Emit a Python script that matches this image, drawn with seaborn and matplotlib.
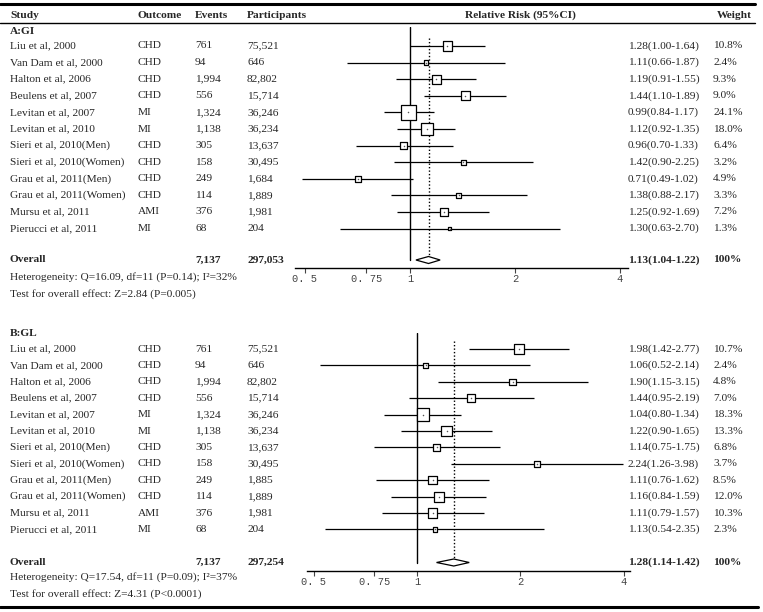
import numpy as np
import pandas as pd
import matplotlib
matplotlib.use("Agg")
import matplotlib.pyplot as plt
import seaborn as sns

# ---------------- data ----------------
studies = ["Liu et al, 2000", "Van Dam et al, 2000", "Halton et al, 2006", "Beulens et al, 2007",
           "Levitan et al, 2007", "Levitan et al, 2010", "Sieri et al, 2010(Men)",
           "Sieri et al, 2010(Women)", "Grau et al, 2011(Men)", "Grau et al, 2011(Women)",
           "Mursu et al, 2011", "Pierucci et al, 2011"]
outcomes = ["CHD", "CHD", "CHD", "CHD", "MI", "MI", "CHD", "CHD", "CHD", "CHD", "AMI", "MI"]
events = ["761", "94", "1,994", "556", "1,324", "1,138", "305", "158", "249", "114", "376", "68"]
participants_a = ["75,521", "646", "82,802", "15,714", "36,246", "36,234", "13,637", "30,495",
                  "1,684", "1,889", "1,981", "204"]
participants_b = ["75,521", "646", "82,802", "15,714", "36,246", "36,234", "13,637", "30,495",
                  "1,885", "1,889", "1,981", "204"]

rr_a = [1.28, 1.11, 1.19, 1.44, 0.99, 1.12, 0.96, 1.42, 0.71, 1.38, 1.25, 1.30]
lo_a = [1.00, 0.66, 0.91, 1.10, 0.84, 0.92, 0.70, 0.90, 0.49, 0.88, 0.92, 0.63]
hi_a = [1.64, 1.87, 1.55, 1.89, 1.17, 1.35, 1.33, 2.25, 1.02, 2.17, 1.69, 2.70]
w_a = [10.8, 2.4, 9.3, 9.0, 24.1, 18.0, 6.4, 3.2, 4.9, 3.3, 7.2, 1.3]
overall_a = (1.13, 1.04, 1.22)
total_a = ("7,137", "297,053")
het_a = "Heterogeneity: Q=16.09, df=11 (P=0.14); I\u00b2=32%"
test_a = "Test for overall effect: Z=2.84 (P=0.005)"

rr_b = [1.98, 1.06, 1.90, 1.44, 1.04, 1.22, 1.14, 2.24, 1.11, 1.16, 1.11, 1.13]
lo_b = [1.42, 0.52, 1.15, 0.95, 0.80, 0.90, 0.75, 1.26, 0.76, 0.84, 0.79, 0.54]
hi_b = [2.77, 2.14, 3.15, 2.19, 1.34, 1.65, 1.75, 3.98, 1.62, 1.59, 1.57, 2.35]
w_b = [10.7, 2.4, 4.8, 7.0, 18.3, 13.3, 6.8, 3.7, 8.5, 12.0, 10.3, 2.3]
overall_b = (1.28, 1.14, 1.42)
total_b = ("7,137", "297,254")
het_b = "Heterogeneity: Q=17.54, df=11 (P=0.09); I\u00b2=37%"
test_b = "Test for overall effect: Z=4.31 (P<0.0001)"

tick_vals = [0.5, 0.75, 1, 2, 4]
tick_labels = ["0. 5", "0. 75", "1", "2", "4"]
headers = ["Study", "Outcome", "Events", "Participants", "Relative Risk (95%CI)", "Weight"]

# ---------------- style ----------------
sns.set_theme(style="white")
plt.rcParams["font.family"] = ["Liberation Serif", "DejaVu Serif"]
FS = 8.2
W, H = 763, 612
fig = plt.figure(figsize=(W / 100, H / 100), dpi=100)

tab = fig.add_axes([0, 0, 1, 1])
tab.set_xlim(0, W)
tab.set_ylim(H, 0)
tab.axis("off")

X_STUDY, X_OUT, X_EV, X_PART, X_EST, X_W = 10, 138, 195, 247, 628, 713

# rules
tab.plot([0, 755], [3.5, 3.5], color="black", lw=2.2)
tab.plot([0, 755], [23, 23], color="black", lw=1.0)
tab.plot([0, 758], [607, 607], color="black", lw=2.2)

# headers
for x, t in zip([X_STUDY, X_OUT, X_EV, X_PART], headers[:4]):
    tab.text(x, 15, t, fontsize=FS, fontweight="bold", va="center", ha="left")
tab.text(520, 15, headers[4], fontsize=FS, fontweight="bold", va="center", ha="center")
tab.text(752, 15, headers[5], fontsize=FS, fontweight="bold", va="center", ha="right")


def panel(title, y_title, y0, dy, y_overall, y_het, y_test, participants, rr, lo, hi, w,
          overall, total, het, test, ax_box, one_px, px_per_ln):
    # text columns
    tab.text(X_STUDY, y_title, title, fontsize=FS, fontweight="bold", va="center")
    ys = y0 + dy * np.arange(len(studies))
    for i, y in enumerate(ys):
        tab.text(X_STUDY, y, studies[i], fontsize=FS, va="center")
        tab.text(X_OUT, y, outcomes[i], fontsize=FS, va="center")
        tab.text(X_EV, y, events[i], fontsize=FS, va="center")
        tab.text(X_PART, y, participants[i], fontsize=FS, va="center")
        tab.text(X_EST, y, f"{rr[i]:.2f}({lo[i]:.2f}-{hi[i]:.2f})", fontsize=FS, va="center")
        tab.text(X_W, y, f"{w[i]:.1f}%", fontsize=FS, va="center")
    tab.text(X_STUDY, y_overall, "Overall", fontsize=FS, fontweight="bold", va="center")
    tab.text(X_EV, y_overall, total[0], fontsize=FS, fontweight="bold", va="center")
    tab.text(X_PART, y_overall, total[1], fontsize=FS, fontweight="bold", va="center")
    tab.text(X_EST, y_overall, f"{overall[0]:.2f}({overall[1]:.2f}-{overall[2]:.2f})",
             fontsize=FS, fontweight="bold", va="center")
    tab.text(X_W, y_overall, "100%", fontsize=FS, fontweight="bold", va="center")
    tab.text(X_STUDY, y_het, het, fontsize=FS, va="center")
    tab.text(X_STUDY, y_test, test, fontsize=FS, va="center")

    # forest axes
    left, right, top, bottom = ax_box
    ax = fig.add_axes([left / W, 1 - bottom / H, (right - left) / W, (bottom - top) / H])
    ax.set_facecolor("none")
    ax.set_xscale("log")
    ax.set_xlim(np.exp((left - one_px) / px_per_ln), np.exp((right - one_px) / px_per_ln))
    ylo = (bottom - y0) / dy
    yhi = (top - y0) / dy
    ax.set_ylim(ylo, yhi)
    row_overall = (y_overall - y0) / dy

    df = pd.DataFrame({"rr": rr, "lo": lo, "hi": hi, "w": w, "row": np.arange(len(rr))})
    ax.hlines(df["row"], df["lo"], df["hi"], color="black", lw=0.9, zorder=2, clip_on=False)
    sns.scatterplot(data=df, x="rr", y="row", size="w", sizes=(0, 436), size_norm=(0, 100),
                    marker="s", color="white", edgecolor="black", linewidth=0.9,
                    legend=False, ax=ax, zorder=3, clip_on=False)
    sns.scatterplot(data=df, x="rr", y="row", marker="o", s=1.2, color="#555555",
                    linewidth=0, legend=False, ax=ax, zorder=4)

    # line of no effect and overall dashed line
    ax.plot([1, 1], [yhi, row_overall], color="black", lw=1.0, zorder=1)
    ax.plot([overall[0], overall[0]], [-0.5, row_overall - 0.22], color="black",
            lw=1.0, ls=(0, (1, 1.5)), zorder=1)
    # diamond
    hh = 3.5 / dy
    est, l, h = overall
    ax.fill([l, est, h, est, l], [row_overall, row_overall - hh, row_overall, row_overall + hh,
                                  row_overall], facecolor="white", edgecolor="black", lw=0.9,
            zorder=3)

    for s in ["top", "right", "left"]:
        ax.spines[s].set_visible(False)
    ax.spines["bottom"].set_color("black")
    ax.spines["bottom"].set_linewidth(1.0)
    ax.set_xticks(tick_vals)
    ax.set_xticklabels(tick_labels, fontsize=7.5, color="#444444",
                       family=["Liberation Mono", "DejaVu Sans Mono"])
    ax.minorticks_off()
    ax.tick_params(axis="x", direction="out", length=3.5, width=0.8, pad=0.5, colors="#444444",
                   bottom=True)
    ax.tick_params(axis="y", left=False, labelleft=False)
    ax.set_xlabel("")
    ax.set_ylabel("")
    return ax


panel("A:GI", 31, 46, 16.6, 260, 277, 294, participants_a, rr_a, lo_a, hi_a, w_a,
      overall_a, total_a, het_a, test_a, (295, 628, 27, 268), 410, 151.5)
panel("B:GL", 333, 349, 16.4, 562.5, 577, 594, participants_b, rr_b, lo_b, hi_b, w_b,
      overall_b, total_b, het_b, test_b, (307, 630, 333, 571), 417, 149)

fig.savefig("out.png", dpi=100)
